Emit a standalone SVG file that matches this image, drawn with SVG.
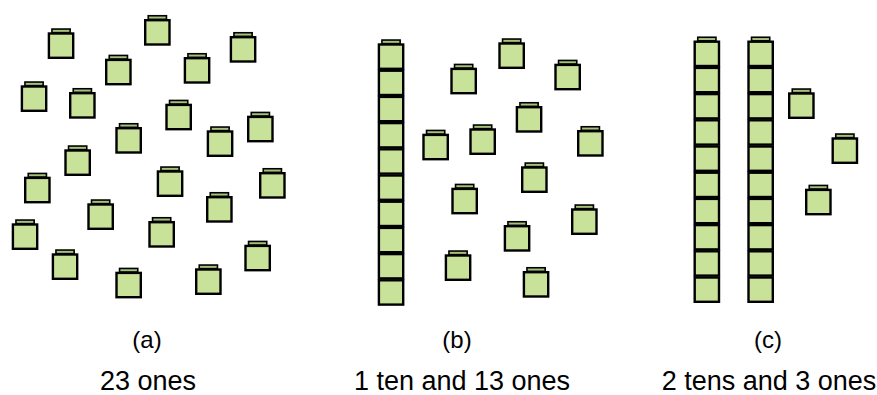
<svg xmlns="http://www.w3.org/2000/svg" xmlns:xlink="http://www.w3.org/1999/xlink" width="877" height="395" viewBox="0 0 877 395">
<style>
.body{fill:#c8e29a;stroke:#000;stroke-width:2.4}
.tab{fill:#a5c27a;stroke:#000;stroke-width:1.6}
.lbl{font-family:"Liberation Sans",Arial,sans-serif;font-size:24px;fill:#000;text-anchor:middle}
.cap{font-family:"Liberation Sans",Arial,sans-serif;font-size:27px;fill:#000;text-anchor:middle}
</style>
<defs>
<g id="tabonly"><rect class="tab" x="4.25" y="-3.25" width="18.2" height="3.6"/></g>
<g id="unit"><rect class="body" x="1.2" y="1.2" width="24.3" height="24.3"/></g>
<g id="cube"><use href="#tabonly"/><use href="#unit"/></g>
<g id="rod">
<use href="#tabonly"/>
<use href="#unit" y="0"/><use href="#unit" y="26.2"/><use href="#unit" y="52.4"/><use href="#unit" y="78.6"/><use href="#unit" y="104.8"/>
<use href="#unit" y="131"/><use href="#unit" y="157.2"/><use href="#unit" y="183.4"/><use href="#unit" y="209.6"/><use href="#unit" y="235.8"/>
</g>
</defs>

<g id="panel-a">
<g id="a1"><use href="#cube" x="47.7" y="32.3"/></g>
<g id="a2"><use href="#cube" x="144" y="19"/></g>
<g id="a3"><use href="#cube" x="229.7" y="36"/></g>
<g id="a4"><use href="#cube" x="105" y="58.7"/></g>
<g id="a5"><use href="#cube" x="183.7" y="57"/></g>
<g id="a6"><use href="#cube" x="20.7" y="85.3"/></g>
<g id="a7"><use href="#cube" x="69" y="92"/></g>
<g id="a8"><use href="#cube" x="165.3" y="103.7"/></g>
<g id="a9"><use href="#cube" x="247" y="115.7"/></g>
<g id="a10"><use href="#cube" x="115.3" y="127"/></g>
<g id="a11"><use href="#cube" x="206.7" y="130.3"/></g>
<g id="a12"><use href="#cube" x="64.3" y="149.3"/></g>
<g id="a13"><use href="#cube" x="24" y="176.7"/></g>
<g id="a14"><use href="#cube" x="156.7" y="170.3"/></g>
<g id="a15"><use href="#cube" x="259" y="172"/></g>
<g id="a16"><use href="#cube" x="206" y="196"/></g>
<g id="a17"><use href="#cube" x="87.3" y="203.3"/></g>
<g id="a18"><use href="#cube" x="11.7" y="223.3"/></g>
<g id="a19"><use href="#cube" x="148.3" y="221"/></g>
<g id="a20"><use href="#cube" x="244.3" y="244.7"/></g>
<g id="a21"><use href="#cube" x="51.7" y="253.3"/></g>
<g id="a22"><use href="#cube" x="115.3" y="271.7"/></g>
<g id="a23"><use href="#cube" x="195" y="268.3"/></g>
</g>

<g id="panel-b">
<g id="b-rod"><use href="#rod" x="377.7" y="43.3"/></g>
<g id="b1"><use href="#cube" x="450.3" y="67.7"/></g>
<g id="b2"><use href="#cube" x="498.3" y="42.3"/></g>
<g id="b3"><use href="#cube" x="554.3" y="63.7"/></g>
<g id="b4"><use href="#cube" x="515.7" y="106"/></g>
<g id="b5"><use href="#cube" x="422.3" y="133.7"/></g>
<g id="b6"><use href="#cube" x="469.3" y="128.3"/></g>
<g id="b7"><use href="#cube" x="577" y="130"/></g>
<g id="b8"><use href="#cube" x="521" y="166.3"/></g>
<g id="b9"><use href="#cube" x="451.3" y="187.7"/></g>
<g id="b10"><use href="#cube" x="571" y="208.3"/></g>
<g id="b11"><use href="#cube" x="503.7" y="225"/></g>
<g id="b12"><use href="#cube" x="444.7" y="254.3"/></g>
<g id="b13"><use href="#cube" x="522.7" y="271"/></g>
</g>

<g id="panel-c">
<g id="c-rod1"><use href="#rod" x="693.5" y="40.5"/></g>
<g id="c-rod2"><use href="#rod" x="747.3" y="40.5"/></g>
<g id="c1"><use href="#cube" x="788" y="92.3"/></g>
<g id="c2"><use href="#cube" x="831.5" y="137.3"/></g>
<g id="c3"><use href="#cube" x="805" y="188.7"/></g>
</g>

<g id="connectors"/>

<g id="labels">
<text class="lbl" x="147" y="348">(a)</text>
<text class="cap" x="148" y="390">23 ones</text>
<text class="lbl" x="457" y="348">(b)</text>
<text class="cap" x="462" y="390">1 ten and 13 ones</text>
<text class="lbl" x="768" y="348">(c)</text>
<text class="cap" x="769" y="390">2 tens and 3 ones</text>
</g>
</svg>
